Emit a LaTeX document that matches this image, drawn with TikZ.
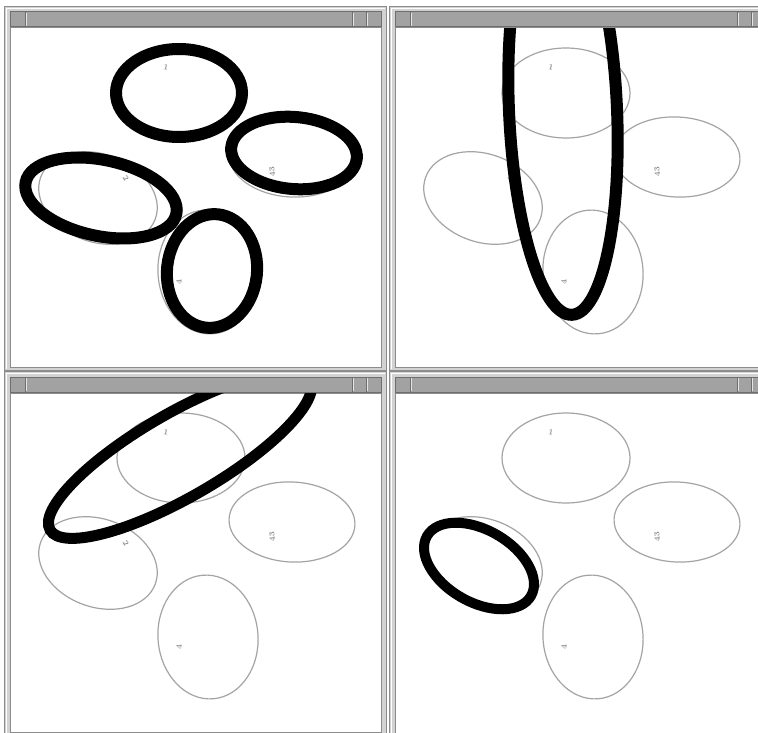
\documentclass[tikz,border=0pt]{standalone}
\definecolor{framebg}{HTML}{D2D2D2}
\definecolor{frameline}{HTML}{8C8C8C}
\definecolor{titlebg}{HTML}{A2A2A2}
\definecolor{titleline}{HTML}{6E6E6E}
\definecolor{ellgray}{HTML}{A4A4A4}
\definecolor{lblgray}{HTML}{8E8E8E}
\tikzset{
  grayell/.style={draw=ellgray, line width=1.2pt},
  blackell/.style={draw=black, line width=12pt},
  lbl/.style={text=lblgray, font=\fontsize{8}{8}\selectfont\bfseries, inner sep=0pt},
  titlebar/.style={fill=titlebg, draw=titleline, line width=1pt},
  contentbox/.style={fill=white, draw=frameline, line width=1pt},
}
% window frame: outer x0 y0 x1 y1
\newcommand\winframe[4]{%
  \fill[framebg] (#1,#2) rectangle (#3,#4);
  \draw[frameline, line width=0.8pt] (#1+0.5,#2+0.5) rectangle (#3-0.5,#4-0.5);
  \draw[white, line width=0.8pt] (#1+2,#4-2) -- (#1+2,#2+2) -- (#3-2,#2+2);
  \draw[titlebar] (#1+6,#2+6) rectangle (#3-6,#2+21);
  \draw[titleline, line width=1pt] (#1+21,#2+6) -- (#1+21,#2+21);
  \draw[white!80!gray, line width=0.8pt] (#1+22.5,#2+7) -- (#1+22.5,#2+20);
  \draw[titleline, line width=1pt] (#3-35,#2+6) -- (#3-35,#2+21);
  \draw[white!80!gray, line width=0.8pt] (#3-33.5,#2+7) -- (#3-33.5,#2+20);
  \draw[titleline, line width=1pt] (#3-21,#2+6) -- (#3-21,#2+21);
  \draw[white!80!gray, line width=0.8pt] (#3-19.5,#2+7) -- (#3-19.5,#2+20);
  \draw[contentbox] (#1+6,#2+22) rectangle (#3-6,#4-4);
}
% four grey ellipses, shifted by dx dy; #3 = name prefix
\newcommand\grayfour[3]{%
  \begin{scope}[shift={(#1,#2)}]
    \draw[grayell] (181,458) ellipse [x radius=64pt, y radius=45pt];
    \draw[grayell, shift={(292,522)}, rotate=-3] (0,0) ellipse [x radius=63pt, y radius=40pt];
    \draw[grayell, shift={(98,563)}, rotate=-20] (0,0) ellipse [x radius=61pt, y radius=44pt];
    \draw[grayell, shift={(208,637)}, rotate=5] (0,0) ellipse [x radius=50pt, y radius=62pt];
    \node[lbl, rotate=-10] (#3a) at (166,432) {1};
    \node[lbl, rotate=95] (#3b) at (272,537) {43};
    \node[lbl, rotate=-60] (#3c) at (126,543) {2};
    \node[lbl, rotate=90] (#3d) at (179,647) {4};
  \end{scope}}
\begin{document}
\begin{tikzpicture}[x=1pt, y=-1pt]
  \useasboundingbox (0,0) rectangle (758,733);
  \clip (0,0) rectangle (758,733);
  \fill[white] (0,0) rectangle (758,733);

  % frames
  \winframe{4}{6}{387}{371}
  \winframe{389}{6}{772}{371}
  \winframe{4}{371}{387}{736}
  \winframe{389}{371}{772}{742}

  % top-left panel
  \begin{scope}
    \clip (10.5,28.5) rectangle (380.5,366.5);
    \grayfour{0}{-365}{tl}
    \draw[blackell] (179,93) ellipse [x radius=63pt, y radius=44pt];
    \draw[blackell, shift={(294,153)}, rotate=-5] (0,0) ellipse [x radius=63pt, y radius=36pt];
    \draw[blackell, shift={(101,198)}, rotate=-12] (0,0) ellipse [x radius=77pt, y radius=38pt];
    \draw[blackell, shift={(212,271)}, rotate=-6] (0,0) ellipse [x radius=45pt, y radius=57pt];
  \end{scope}

  % top-right panel
  \begin{scope}
    \clip (395.5,28.5) rectangle (765.5,366.5);
    \grayfour{385}{-365}{tr}
    \draw[blackell, shift={(563,110)}, rotate=2.5] (0,0) ellipse [x radius=54pt, y radius=205pt];
  \end{scope}

  % bottom-left panel
  \begin{scope}
    \clip (10.5,393.5) rectangle (380.5,731.5);
    \grayfour{0}{0}{bl}
    \draw[blackell, line width=11pt, shift={(180,455)}, rotate=30] (0,0) ellipse [x radius=150pt, y radius=42pt];
  \end{scope}

  % bottom-right panel
  \begin{scope}
    \clip (395.5,393.5) rectangle (765.5,740);
    \grayfour{385}{0}{br}
    \draw[blackell, line width=10pt, shift={(479,566)}, rotate=-30] (0,0) ellipse [x radius=60pt, y radius=36pt];
  \end{scope}
\end{tikzpicture}
\end{document}
